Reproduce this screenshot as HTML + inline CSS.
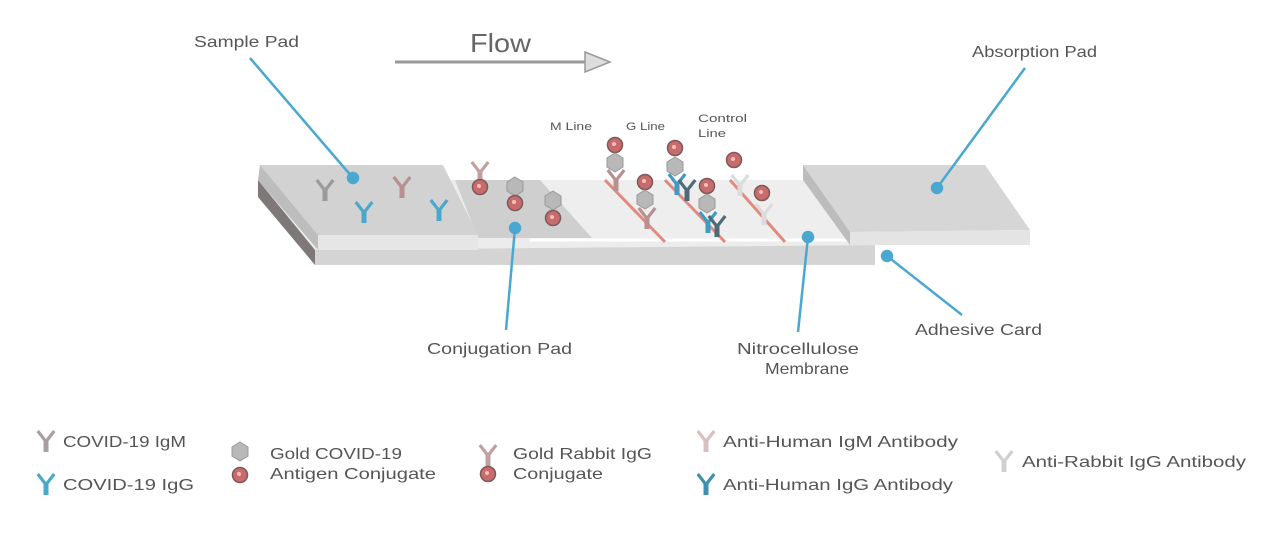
<!DOCTYPE html>
<html><head><meta charset="utf-8"><style>
html,body{margin:0;padding:0;background:#fff;}
svg{display:block;font-family:"Liberation Sans",sans-serif;}
</style></head><body>
<svg width="1280" height="541" viewBox="0 0 1280 541">
<defs>
  <g id="ab">
    <path d="M-7,-11 L0,-2 L7,-11 L9.5,-9 L2.5,0 L2.5,11 L-2.5,11 L-2.5,0 L-9.5,-9 Z"/>
  </g>
  <g id="gold"><circle r="7.5" fill="#c96b6b" stroke="#7a5a5a" stroke-width="1.5"/><circle cx="-1" cy="-1" r="2" fill="#f0c0c0"/></g>
  <g id="hex"><polygon points="0,-9 8,-4 8,5 0,10 -8,5 -8,-4" fill="#b8b8b8" stroke="#999"/></g>
</defs>

<g>
  <polygon points="258,180 840,180 875,245 315,250" fill="#ececec"/>
  <polygon points="315,250 875,245 875,265 315,265" fill="#d4d4d4"/>
  <polygon points="258,180 315,250 315,265 258,197" fill="#7e7878"/>
  <polygon points="470,180 810,180 850,242 530,242" fill="#eeeeee"/>
  <line x1="530" y1="240" x2="850" y2="240" stroke="#fff" stroke-width="3"/>
  <polygon points="455,180 540,180 592,238 478,238" fill="#cfcfcf"/>
  <polygon points="260,165 443,165 478,235 318,235" fill="#d2d2d2"/>
  <polygon points="318,235 478,235 478,250 318,250" fill="#e6e6e6"/>
  <polygon points="260,165 318,235 318,250 258,180" fill="#bdbdbd"/>
  <polygon points="803,165 985,165 1030,230 850,232" fill="#d6d6d6"/>
  <polygon points="850,232 1030,230 1030,245 850,245" fill="#e4e4e4"/>
  <polygon points="803,165 850,232 850,245 803,180" fill="#bcbcbc"/>
  <line x1="605" y1="180" x2="665" y2="242" stroke="#e08a80" stroke-width="3"/>
  <line x1="665" y1="180" x2="725" y2="242" stroke="#e08a80" stroke-width="3"/>
  <line x1="730" y1="180" x2="785" y2="242" stroke="#e08a80" stroke-width="3"/>
</g>

<g>
  <use href="#ab" x="325" y="190" fill="#9a9a9a"/>
  <use href="#ab" x="402" y="187" fill="#b89090"/>
  <use href="#ab" x="364" y="212" fill="#4aa8cc"/>
  <use href="#ab" x="439" y="210" fill="#4aa8cc"/>
  <use href="#ab" x="480" y="172" fill="#c0a0a0"/><use href="#gold" x="480" y="187"/>
  <use href="#hex" x="515" y="186"/><use href="#gold" x="515" y="203"/>
  <use href="#hex" x="553" y="200"/><use href="#gold" x="553" y="218"/>
  <use href="#gold" x="615" y="145"/><use href="#hex" x="615" y="162"/><use href="#ab" x="616" y="180" fill="#b89090"/>
  <use href="#gold" x="645" y="182"/><use href="#hex" x="645" y="199"/><use href="#ab" x="647" y="218" fill="#b89090"/>
  <use href="#gold" x="675" y="148"/><use href="#hex" x="675" y="166"/><use href="#ab" x="677" y="184" fill="#3e9cc4"/><use href="#ab" x="687" y="190" fill="#4f6b78"/>
  <use href="#gold" x="707" y="186"/><use href="#hex" x="707" y="203"/><use href="#ab" x="708" y="222" fill="#3e9cc4"/><use href="#ab" x="717" y="226" fill="#4f6b78"/>
  <use href="#gold" x="734" y="160"/><use href="#ab" x="740" y="185" fill="#dcdcdc"/>
  <use href="#gold" x="762" y="193"/><use href="#ab" x="764" y="214" fill="#dcdcdc"/>
</g>

<g stroke="#4aa8d0" stroke-width="2.5" fill="#4aa8d0">
  <line x1="250" y1="58" x2="353" y2="178"/><circle cx="353" cy="178" r="5"/>
  <line x1="1025" y1="68" x2="937" y2="188"/><circle cx="937" cy="188" r="5"/>
  <line x1="515" y1="228" x2="506" y2="330"/><circle cx="515" cy="228" r="5"/>
  <line x1="808" y1="237" x2="798" y2="332"/><circle cx="808" cy="237" r="5"/>
  <line x1="887" y1="256" x2="962" y2="315"/><circle cx="887" cy="256" r="5"/>
</g>

<g>
  <text x="470" y="52" font-size="26" fill="#666" textLength="61" lengthAdjust="spacingAndGlyphs">Flow</text>
  <line x1="395" y1="62" x2="588" y2="62" stroke="#999" stroke-width="3"/>
  <polygon points="585,52 610,62 585,72" fill="#ddd" stroke="#999" stroke-width="1.5"/>
</g>

<g fill="#555" font-size="16">
  <text x="194" y="47" textLength="105" lengthAdjust="spacingAndGlyphs">Sample Pad</text>
  <text x="972" y="57" textLength="125" lengthAdjust="spacingAndGlyphs">Absorption Pad</text>
  <text x="427" y="354" textLength="145" lengthAdjust="spacingAndGlyphs">Conjugation Pad</text>
  <text x="737" y="354" textLength="122" lengthAdjust="spacingAndGlyphs">Nitrocellulose</text>
  <text x="765" y="374" textLength="84" lengthAdjust="spacingAndGlyphs">Membrane</text>
  <text x="915" y="335" textLength="127" lengthAdjust="spacingAndGlyphs">Adhesive Card</text>
</g>
<g fill="#555" font-size="11">
  <text x="550" y="130" textLength="42" lengthAdjust="spacingAndGlyphs">M Line</text>
  <text x="626" y="130" textLength="39" lengthAdjust="spacingAndGlyphs">G Line</text>
  <text x="698" y="122" textLength="49" lengthAdjust="spacingAndGlyphs">Control</text>
  <text x="698" y="137" textLength="28" lengthAdjust="spacingAndGlyphs">Line</text>
</g>

<g fill="#555" font-size="16">
  <use href="#ab" x="46" y="441" fill="#a8a0a0"/><text x="63" y="447" textLength="123" lengthAdjust="spacingAndGlyphs">COVID-19 IgM</text>
  <use href="#ab" x="46" y="484" fill="#4aa8cc"/><text x="63" y="490" textLength="131" lengthAdjust="spacingAndGlyphs">COVID-19 IgG</text>
  <use href="#hex" x="240" y="451"/><use href="#gold" x="240" y="475"/>
  <text x="270" y="459" textLength="132" lengthAdjust="spacingAndGlyphs">Gold COVID-19</text>
  <text x="270" y="479" textLength="166" lengthAdjust="spacingAndGlyphs">Antigen Conjugate</text>
  <use href="#ab" x="488" y="455" fill="#c0a0a0"/><use href="#gold" x="488" y="474"/>
  <text x="513" y="459" textLength="139" lengthAdjust="spacingAndGlyphs">Gold Rabbit IgG</text>
  <text x="513" y="479" textLength="90" lengthAdjust="spacingAndGlyphs">Conjugate</text>
  <use href="#ab" x="706" y="441" fill="#d8c0c0"/><text x="723" y="447" textLength="235" lengthAdjust="spacingAndGlyphs">Anti-Human IgM Antibody</text>
  <use href="#ab" x="706" y="484" fill="#3e8fb0"/><text x="723" y="490" textLength="230" lengthAdjust="spacingAndGlyphs">Anti-Human IgG Antibody</text>
  <use href="#ab" x="1004" y="461" fill="#d0d0d0"/><text x="1022" y="467" textLength="224" lengthAdjust="spacingAndGlyphs">Anti-Rabbit IgG Antibody</text>
</g>
</svg>
</body></html>
